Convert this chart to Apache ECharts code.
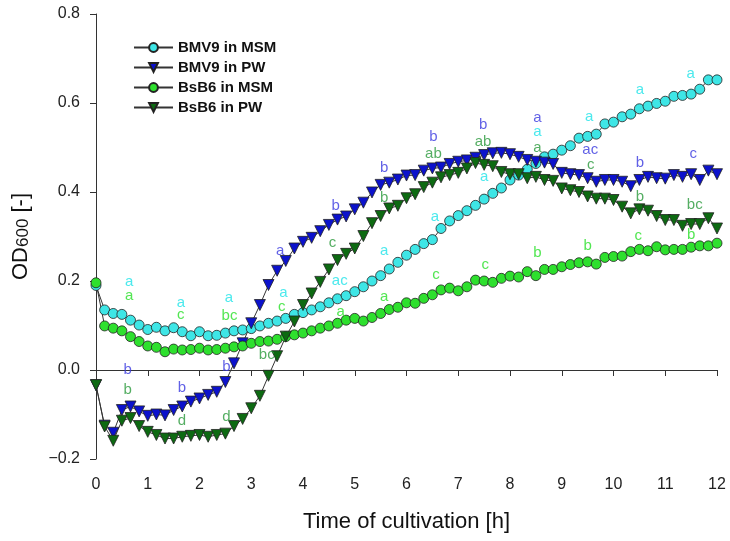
<!DOCTYPE html>
<html lang="en">
<head>
    <meta charset="UTF-8">
    <title>OD600 growth curves</title>
    <style type="text/css">
    body, html {
        width: 100%;
        height: 100%;
        margin: 0;
        padding: 0;
        background: #fff;
    }
    #main {
        width: 730px;
        height: 541px;
    }
    </style>
</head>
<body>
    <div id="main"></div>
    <script src="https://cdn.jsdelivr.net/npm/echarts@6/dist/echarts.min.js"></script>
    <script type="text/javascript">

    // OD600 every 10 min (1/6 h), 0..12 h
    var bmv9Msm = [
        0.19, 0.135, 0.127, 0.125, 0.112, 0.101,
        0.091, 0.096, 0.088, 0.095, 0.086, 0.077,
        0.086, 0.077, 0.078, 0.083, 0.088, 0.09,
        0.093, 0.099, 0.105, 0.11, 0.116, 0.125,
        0.129, 0.135, 0.142, 0.151, 0.16, 0.167,
        0.176, 0.187, 0.2, 0.212, 0.227, 0.242,
        0.258, 0.271, 0.284, 0.293, 0.318, 0.335,
        0.347, 0.358, 0.37, 0.384, 0.397, 0.409,
        0.427, 0.438, 0.451, 0.464, 0.479, 0.485,
        0.494, 0.504, 0.521, 0.525, 0.53, 0.553,
        0.557, 0.569, 0.575, 0.587, 0.593, 0.599,
        0.604, 0.615, 0.617, 0.62, 0.631, 0.652,
        0.652
    ];
    var bmv9Pw = [
        -0.034, -0.125, -0.141, -0.09, -0.082, -0.093,
        -0.103, -0.1, -0.102, -0.09, -0.082, -0.071,
        -0.064, -0.056, -0.049, -0.027, 0.015, 0.06,
        0.105, 0.146, 0.191, 0.223, 0.245, 0.273,
        0.288, 0.297, 0.312, 0.326, 0.338, 0.345,
        0.361, 0.376, 0.399, 0.416, 0.421, 0.428,
        0.437, 0.438, 0.448, 0.453, 0.455, 0.463,
        0.468, 0.471, 0.477, 0.483, 0.487, 0.488,
        0.485, 0.479, 0.472, 0.468, 0.466, 0.463,
        0.443, 0.44, 0.438, 0.431, 0.423, 0.427,
        0.427, 0.423, 0.413, 0.427, 0.434, 0.431,
        0.43, 0.438, 0.434, 0.44, 0.427, 0.448,
        0.44
    ];
    var bsb6Msm = [
        0.196, 0.099, 0.094, 0.088, 0.075, 0.064,
        0.054, 0.051, 0.041, 0.047, 0.045, 0.046,
        0.049, 0.045, 0.046, 0.049, 0.052, 0.054,
        0.06, 0.064, 0.065, 0.069, 0.075, 0.079,
        0.083, 0.088, 0.094, 0.099, 0.105, 0.112,
        0.116, 0.11, 0.118, 0.127, 0.136, 0.141,
        0.151, 0.15, 0.161, 0.169, 0.18, 0.184,
        0.178, 0.187, 0.202, 0.2, 0.197, 0.206,
        0.211, 0.209, 0.221, 0.212, 0.226, 0.226,
        0.232, 0.237, 0.241, 0.243, 0.238, 0.253,
        0.255, 0.256, 0.266, 0.271, 0.268, 0.277,
        0.27, 0.271, 0.271, 0.276, 0.279, 0.279,
        0.285
    ];
    var bsb6Pw = [
        -0.034, -0.127, -0.159, -0.114, -0.108, -0.126,
        -0.139, -0.146, -0.154, -0.154, -0.15, -0.148,
        -0.146, -0.15, -0.146, -0.143, -0.126, -0.11,
        -0.086, -0.058, -0.013, 0.031, 0.075, 0.109,
        0.146, 0.172, 0.198, 0.226, 0.247, 0.261,
        0.273, 0.301, 0.33, 0.346, 0.363, 0.369,
        0.386, 0.395, 0.411, 0.421, 0.433, 0.438,
        0.443, 0.453, 0.465, 0.461, 0.458, 0.445,
        0.44, 0.44, 0.431, 0.434, 0.427, 0.425,
        0.408, 0.404, 0.4, 0.39, 0.385, 0.385,
        0.382, 0.367, 0.352, 0.361, 0.358, 0.346,
        0.337, 0.337, 0.324, 0.328, 0.328, 0.341,
        0.318
    ];

    // significance letters [time, OD, text]
    var lettersBmv9Msm = [
        [0.64, 0.199, 'a'], [1.64, 0.152, 'a'], [2.57, 0.163, 'a'], [3.62, 0.173, 'a'],
        [4.71, 0.201, 'ac'], [5.57, 0.267, 'a'], [6.55, 0.345, 'a'], [7.5, 0.433, 'a'],
        [8.53, 0.536, 'a'], [9.53, 0.568, 'a'], [10.51, 0.629, 'a'], [11.49, 0.665, 'a']
    ];
    var lettersBmv9Pw = [
        [0.61, 0.001, 'b'], [1.66, -0.04, 'b'], [2.52, 0.008, 'b'], [3.56, 0.268, 'a'],
        [4.63, 0.369, 'b'], [5.57, 0.455, 'b'], [6.52, 0.523, 'b'], [7.48, 0.551, 'b'],
        [8.53, 0.566, 'a'], [9.55, 0.494, 'ac'], [10.51, 0.466, 'b'], [11.54, 0.485, 'c']
    ];
    var lettersBsb6Msm = [
        [0.64, 0.166, 'a'], [1.64, 0.124, 'c'], [2.58, 0.122, 'bc'], [3.59, 0.142, 'c'],
        [4.73, 0.131, 'a'], [5.57, 0.165, 'a'], [6.57, 0.213, 'c'], [7.52, 0.236, 'c'],
        [8.53, 0.263, 'b'], [9.5, 0.279, 'b'], [10.48, 0.302, 'c'], [11.5, 0.303, 'b']
    ];
    var lettersBsb6Pw = [
        [0.61, -0.044, 'b'], [1.66, -0.115, 'd'], [2.52, -0.105, 'd'], [3.3, 0.034, 'bc'],
        [4.57, 0.285, 'c'], [5.57, 0.387, 'b'], [6.52, 0.485, 'ab'], [7.48, 0.513, 'ab'],
        [8.53, 0.5, 'a'], [9.56, 0.461, 'c'], [10.51, 0.388, 'b'], [11.57, 0.371, 'bc']
    ];

    var chart = echarts.init(document.getElementById('main'));

    function pairs(arr) {
        var out = [];
        for (var i = 0; i < arr.length; i++) {
            out.push([i / 6, arr[i]]);
        }
        return out;
    }

    function curve(name, arr, fill, symbol) {
        return {
            name: name,
            type: 'line',
            data: pairs(arr),
            symbol: symbol,
            symbolSize: symbol == 'circle' ? 10 : 11,
            symbolRotate: symbol == 'triangle' ? 180 : 0,
            showAllSymbol: true,
            lineStyle: { color: '#333', width: 1 },
            itemStyle: { color: fill, borderColor: '#222', borderWidth: 0.8 },
            z: 2
        };
    }

    function letters(arr, color) {
        return {
            type: 'scatter',
            data: arr,
            symbolSize: 0,
            silent: true,
            z: 5,
            label: {
                show: true,
                position: 'inside',
                formatter: function (p) { return p.data[2]; },
                color: color,
                fontSize: 15,
                fontFamily: 'Liberation Sans, Arial, sans-serif'
            }
        };
    }

    var option = {
        animation: false,
        textStyle: { fontFamily: 'Liberation Sans, Arial, sans-serif' },
        grid: { left: 96, right: 13, top: 14, bottom: 82, outerBoundsMode: 'none' },
        legend: {
            orient: 'vertical',
            left: 128,
            top: 35,
            itemWidth: 39,
            itemHeight: 11,
            itemGap: 5,
            data: ['BMV9 in MSM', 'BMV9 in PW', 'BsB6 in MSM', 'BsB6 in PW'],
            textStyle: { fontSize: 15, fontWeight: 'bold', color: '#111', lineHeight: 15 }
        },
        xAxis: {
            type: 'value',
            min: 0,
            max: 12,
            interval: 1,
            name: 'Time of cultivation [h]',
            nameLocation: 'middle',
            nameGap: 52,
            nameTextStyle: { fontSize: 22, color: '#111' },
            axisLine: { lineStyle: { color: '#333', width: 1 } },
            axisTick: { length: 6, lineStyle: { color: '#333' } },
            axisLabel: { fontSize: 16, color: '#222', margin: 18 },
            splitLine: { show: false }
        },
        yAxis: {
            type: 'value',
            min: -0.2,
            max: 0.8,
            interval: 0.2,
            name: '{a|OD}{b|600}{a| [-]}',
            nameLocation: 'middle',
            nameGap: 64,
            nameTextStyle: {
                rich: {
                    a: { fontSize: 22, color: '#111' },
                    b: { fontSize: 17, color: '#111', padding: [6, 0, 0, 0] }
                }
            },
            axisLine: { show: true, lineStyle: { color: '#333', width: 1 } },
            axisTick: { show: true, length: 6, lineStyle: { color: '#333' } },
            axisLabel: {
                fontSize: 16,
                color: '#222',
                margin: 16,
                formatter: function (v) {
                    var s = Math.abs(v).toFixed(1);
                    return v < -1e-9 ? '\u2212' + s : s;
                }
            },
            splitLine: { show: false }
        },
        series: [
            curve('BMV9 in MSM', bmv9Msm, '#3ee6e6', 'circle'),
            curve('BMV9 in PW', bmv9Pw, '#0c12cc', 'triangle'),
            curve('BsB6 in MSM', bsb6Msm, '#2ee02e', 'circle'),
            curve('BsB6 in PW', bsb6Pw, '#0d6a12', 'triangle'),
            letters(lettersBmv9Msm, '#1fe3e8'),
            letters(lettersBmv9Pw, '#3a3ae0'),
            letters(lettersBsb6Msm, '#28e028'),
            letters(lettersBsb6Pw, '#2a9a3c')
        ]
    };

    chart.setOption(option);
    </script>
</body>
</html>
